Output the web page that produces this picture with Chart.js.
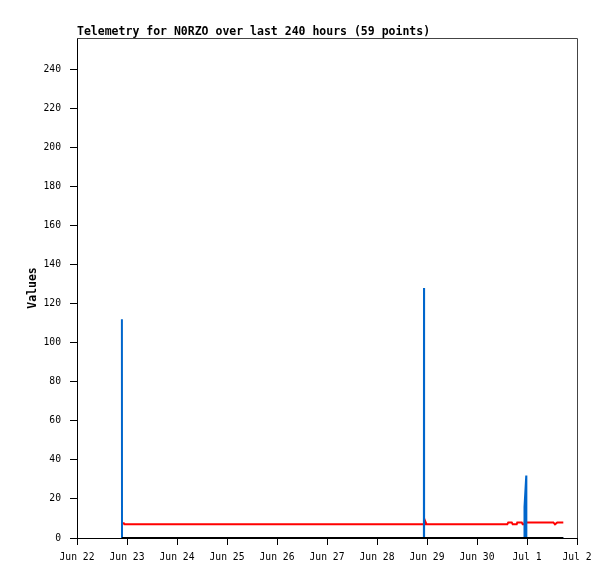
<!DOCTYPE html>
<html>
<head>
<meta charset="utf-8">
<script src="https://cdn.jsdelivr.net/npm/chart.js@4"></script>
<style>
  body { margin: 0; background: #fff; }
  canvas { display: block; }
</style>
</head>
<body>
<canvas id="chart" width="615" height="579"></canvas>
<script>
// x values are days since Jun 22 00:00
var dayLabels = ['Jun 22', 'Jun 23', 'Jun 24', 'Jun 25', 'Jun 26', 'Jun 27',
                 'Jun 28', 'Jun 29', 'Jun 30', 'Jul 1', 'Jul 2'];

var blueDays = [0.898, 0.9, 6.938, 6.94, 6.942, 8.948, 8.95, 8.985, 8.987, 9.726];
var blueVals = [112, 0, 0, 128, 0, 0, 16, 32, 0, 0];

var redDays = [0.926, 0.946, 6.96, 6.974, 6.99, 8.606, 8.626, 8.694, 8.714, 8.794,
               8.806, 8.894, 8.914, 8.94, 8.954, 9.526, 9.56, 9.606, 9.726];
var redVals = [8, 7, 7, 8, 7, 7, 8, 8, 7, 7, 8, 8, 7, 7, 8, 8, 7, 8, 8];

var blackDays = [0.898, 9.726];
var blackVals = [0, 0];

var titleText = 'Telemetry for N0RZO over last 240 hours (59 points)';
var mono = "'DejaVu Sans Mono', 'Liberation Mono', monospace";

function pts(xs, ys) {
  return xs.map(function(x, i) { return {x: x, y: ys[i]}; });
}

var frame = {
  id: 'frame',
  afterDraw: function(chart) {
    var ctx = chart.ctx, a = chart.chartArea;
    ctx.save();
    ctx.strokeStyle = '#444';
    ctx.lineWidth = 1;
    ctx.beginPath();
    ctx.moveTo(a.left, a.top + 0.5);
    ctx.lineTo(a.right + 0.5, a.top + 0.5);
    ctx.lineTo(a.right + 0.5, a.bottom);
    ctx.stroke();
    ctx.fillStyle = '#000';
    ctx.font = 'bold 11.5px ' + mono;
    ctx.textBaseline = 'alphabetic';
    ctx.textAlign = 'left';
    ctx.fillText(titleText, a.left, 35);
    ctx.restore();
  }
};

var chart = new Chart('chart', {
  type: 'line',
  data: {
    datasets: [
      { data: pts(blackDays, blackVals), borderColor: '#000', order: 0 },
      { data: pts(blueDays, blueVals), borderColor: '#0066cc', order: 1 },
      { data: pts(redDays, redVals), borderColor: '#ff0000', order: 2 }
    ]
  },
  options: {
    responsive: false,
    animation: false,
    layout: { padding: { top: 38, right: 38, left: 0, bottom: 0 } },
    elements: {
      line: { borderWidth: 2, tension: 0 },
      point: { radius: 0 }
    },
    plugins: {
      legend: { display: false },
      title: { display: false },
      tooltip: { enabled: false }
    },
    scales: {
      x: {
        type: 'linear',
        min: 0,
        max: 10,
        afterFit: function(s) { s.height = 41; },
        grid: { drawOnChartArea: false, color: '#000', tickLength: 7 },
        border: { color: '#000' },
        ticks: {
          stepSize: 1,
          maxRotation: 0,
          autoSkip: false,
          padding: 7,
          color: '#000',
          font: { family: mono, size: 9.7 },
          callback: function(v) { return dayLabels[v]; }
        }
      },
      y: {
        min: 0,
        max: 256,
        afterFit: function(s) { s.width = 77; },
        grid: { drawOnChartArea: false, color: '#000', tickLength: 7 },
        border: { color: '#000' },
        title: {
          display: true,
          text: 'Values',
          color: '#000',
          padding: { top: 26, bottom: 0 },
          font: { family: mono, size: 11.5, weight: 'bold' }
        },
        ticks: {
          stepSize: 20,
          includeBounds: false,
          padding: 9,
          color: '#000',
          font: { family: mono, size: 9.7 }
        }
      }
    }
  },
  plugins: [frame]
});
</script>
</body>
</html>
